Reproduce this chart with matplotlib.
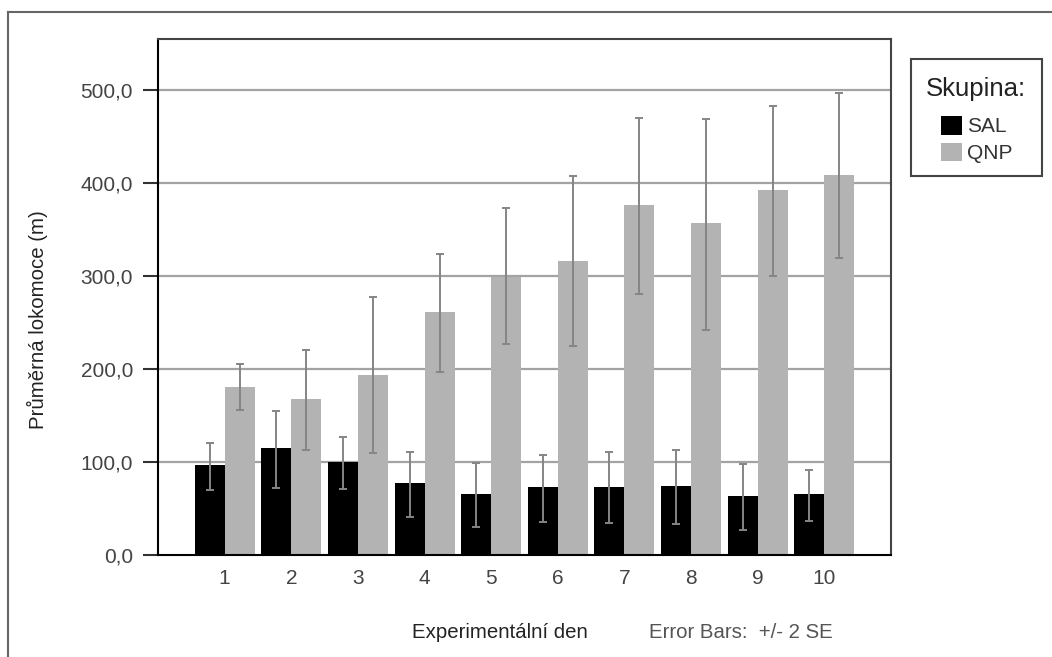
import numpy as np
import matplotlib
matplotlib.use("Agg")
import matplotlib.pyplot as plt
from matplotlib.lines import Line2D
from matplotlib.patches import Rectangle

plt.rcParams['font.family'] = ['Liberation Sans', 'DejaVu Sans']

# experimental days
days = [1, 2, 3, 4, 5, 6, 7, 8, 9, 10]

# mean locomotion (m)
sal_mean = [96.8, 114.7, 100.4, 77.0, 65.2, 72.8, 73.5, 74.2, 63.4, 65.2]
qnp_mean = [181.0, 167.7, 194.0, 261.6, 299.3, 316.5, 376.0, 356.6, 392.5, 408.6]

# error bar ends (+/- 2 SE)
sal_low = [70.0, 72.4, 70.6, 40.5, 30.5, 35.9, 34.8, 33.3, 26.9, 36.9]
sal_high = [120.8, 155.0, 126.5, 111.0, 98.6, 107.2, 110.4, 112.9, 97.5, 91.4]
qnp_low = [156.0, 113.0, 109.3, 197.0, 226.9, 225.1, 280.3, 241.9, 300.4, 319.7]
qnp_high = [205.0, 221.0, 277.0, 323.7, 372.8, 407.5, 470.3, 468.8, 482.8, 496.4]

y_ticks = [0, 100, 200, 300, 400, 500]

W, H = 1052, 657
x = np.array(days)
w = 0.45

fig = plt.figure(figsize=(W / 100, H / 100), dpi=100)
ax = fig.add_axes([158 / W, 1 - 555 / H, (891 - 158) / W, (555 - 39) / H])

# gridlines behind the bars
for v in y_ticks[1:]:
    ax.axhline(v, color='#a3a3a3', lw=1.6, zorder=1)

ax.bar(x - w / 2, sal_mean, width=w, color='black', label='SAL', zorder=2)
ax.bar(x + w / 2, qnp_mean, width=w, color='#b3b3b3', label='QNP', zorder=2)

sal_err = [np.array(sal_mean) - np.array(sal_low), np.array(sal_high) - np.array(sal_mean)]
qnp_err = [np.array(qnp_mean) - np.array(qnp_low), np.array(qnp_high) - np.array(qnp_mean)]
ax.errorbar(x - w / 2, sal_mean, yerr=sal_err, fmt='none', ecolor='#858585',
            elinewidth=1.4, capsize=2.6, capthick=1.4, zorder=3)
ax.errorbar(x + w / 2, qnp_mean, yerr=qnp_err, fmt='none', ecolor='#858585',
            elinewidth=1.4, capsize=2.6, capthick=1.4, zorder=3)

ax.set_xlim(0, 11)
ax.set_ylim(0, 555)
ax.set_xticks(days)
ax.set_xticklabels([str(d) for d in days])
ax.set_yticks(y_ticks)
ax.set_yticklabels([f'{v:.1f}'.replace('.', ',') for v in y_ticks])

ax.tick_params(axis='y', length=11, width=1.5, color='#333333', pad=7,
               labelsize=15, labelcolor='#444444')
ax.tick_params(axis='x', length=0, pad=10, labelsize=15, labelcolor='#444444')

for side in ['left', 'bottom']:
    ax.spines[side].set_color('black')
    ax.spines[side].set_linewidth(1.5)
for side in ['top', 'right']:
    ax.spines[side].set_color('#444444')
    ax.spines[side].set_linewidth(1.5)

fig.text(37 / W, 1 - 320 / H, 'Průměrná lokomoce (m)', fontsize=14.7, color='#222222',
         rotation=90, ha='center', va='center')
fig.text(412 / W, 1 - 632 / H, 'Experimentální den', fontsize=14.7,
         color='#222222', ha='left', va='center')
fig.text(649 / W, 1 - 632 / H, 'Error Bars:  +/- 2 SE', fontsize=14.7,
         color='#555555', ha='left', va='center')

# legend: frame and title drawn separately so the spacing matches
fig.add_artist(Rectangle((911 / W, 1 - 176 / H), (1042 - 911) / W, (176 - 59) / H,
                         transform=fig.transFigure, facecolor='white',
                         edgecolor='#444444', lw=1.5, zorder=4))
fig.text(976 / W, 1 - 89 / H, 'Skupina:', fontsize=18.5, color='#222222',
         ha='center', va='center', zorder=5)
handles, labels = ax.get_legend_handles_labels()
leg = fig.legend(handles, labels, loc='upper left', bbox_to_anchor=(941 / W, 1 - 116 / H),
                 bbox_transform=fig.transFigure, fontsize=15, frameon=False,
                 handlelength=1.0, handleheight=1.0, handletextpad=0.25,
                 labelspacing=0.3, borderpad=0, borderaxespad=0)
leg.set_zorder(6)
for t in leg.get_texts():
    t.set_color('#333333')

# outer frame (runs off the right and bottom)
fig.add_artist(Line2D([8 / W, 1.0], [1 - 12 / H, 1 - 12 / H],
                      transform=fig.transFigure, color='#666666', lw=1.5))
fig.add_artist(Line2D([8 / W, 8 / W], [1 - 12 / H, 0.0],
                      transform=fig.transFigure, color='#666666', lw=1.5))

fig.savefig('out.png', dpi=100)
